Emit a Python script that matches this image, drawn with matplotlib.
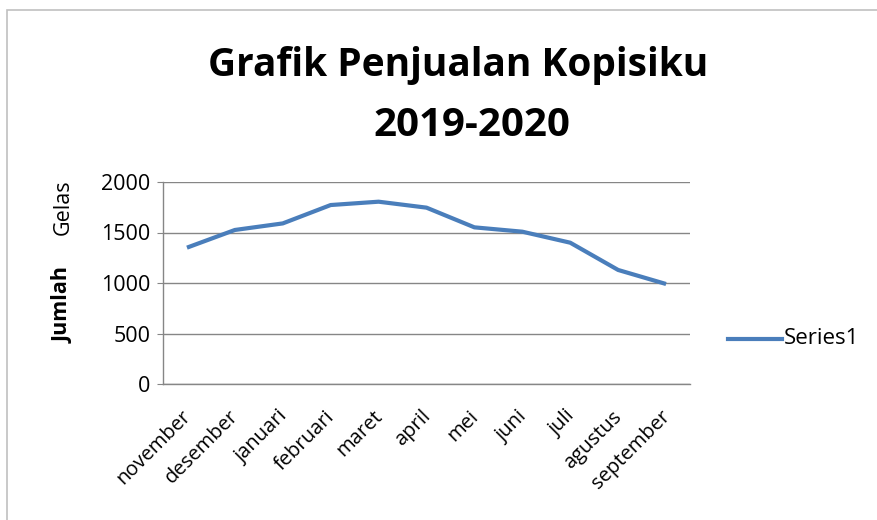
import matplotlib
matplotlib.use("Agg")
import matplotlib.pyplot as plt
import matplotlib.transforms as mtransforms
from matplotlib.patches import Rectangle
from matplotlib.lines import Line2D

months = ["november", "desember", "januari", "februari", "maret", "april",
          "mei", "juni", "juli", "agustus", "september"]
sales = [1350, 1525, 1590, 1772, 1805, 1746, 1551, 1508, 1399, 1129, 990]
yticks = [0, 500, 1000, 1500, 2000]
title_lines = ["Grafik Penjualan Kopisiku", "2019-2020"]
series_name = "Series1"

plt.rcParams['font.family'] = ['Open Sans', 'DejaVu Sans']

W, H = 878, 520
fig = plt.figure(figsize=(W / 100, H / 100), dpi=100)

# outer chart border
fig.add_artist(Rectangle((7 / W, -0.1), 1.2, 1 - 10 / H + 0.1, transform=fig.transFigure,
                         fill=False, edgecolor="#c0c0c0", linewidth=1.2))

left, right, top, bottom = 163, 690, 182, 384
ax = fig.add_axes([left / W, 1 - bottom / H, (right - left) / W, (bottom - top) / H])

x = list(range(len(months)))
ax.plot(x, sales, color="#4a7ebb", linewidth=3, solid_capstyle="butt")
ax.set_xlim(-0.5, len(months) - 0.5)
ax.set_ylim(0, 2000)
ax.set_yticks(yticks)
ax.set_xticks(x)
ax.set_xticklabels(months, rotation=45, ha="right", rotation_mode="anchor", fontsize=14.5)
ax.tick_params(axis="x", length=0, pad=17)
ax.tick_params(axis="y", length=4, color="#868686", labelsize=15.5, pad=5)
ax.grid(axis="y", color="#868686", linewidth=1)
ax.set_axisbelow(True)
for s in ["top", "right"]:
    ax.spines[s].set_visible(False)
for s in ["left", "bottom"]:
    ax.spines[s].set_color("#868686")
    ax.spines[s].set_linewidth(1)

offset = mtransforms.ScaledTranslation(-6 / 100, 1 / 100, fig.dpi_scale_trans)
for lab in ax.get_xticklabels():
    lab.set_transform(lab.get_transform() + offset)

fig.text(458 / W, 1 - 76 / H, title_lines[0], ha="center", va="baseline", fontsize=28,
         fontweight="bold")
fig.text(472 / W, 1 - 136 / H, title_lines[1], ha="center", va="baseline", fontsize=29,
         fontweight="bold")

fig.text(63 / W, 1 - 305 / H, "Jumlah", rotation=90, ha="center", va="center",
         fontsize=15.5, fontweight="bold")
fig.text(63 / W, 1 - 207 / H, "Gelas", rotation=90, ha="center", va="center",
         fontsize=15.5)

# legend
fig.add_artist(Line2D([728 / W, 782 / W], [1 - 339 / H, 1 - 339 / H],
                      transform=fig.transFigure, color="#4a7ebb", linewidth=3))
fig.text(784 / W, 1 - 339 / H, series_name, ha="left", va="center", fontsize=16)

fig.savefig("out.png", dpi=100)
